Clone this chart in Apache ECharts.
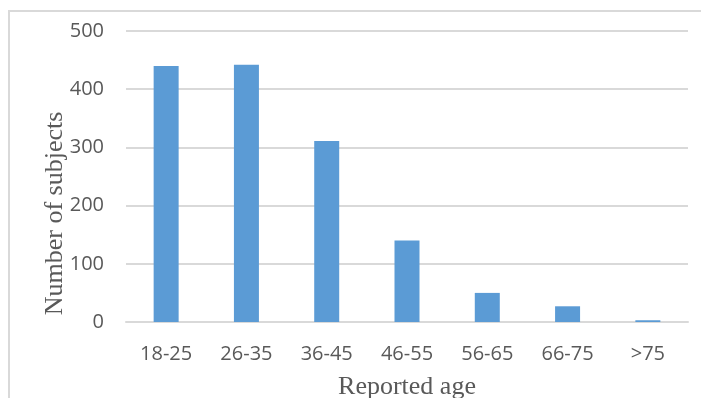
<!DOCTYPE html>
<html>
<head>
<meta charset="utf-8">
<script src="https://cdn.jsdelivr.net/npm/echarts@6/dist/echarts.min.js"></script>
<style>html,body{margin:0;padding:0;background:#fff;}#c{width:701px;height:398px;}</style>
</head>
<body>
<div id="c"></div>
<script>
var categories = ['18-25', '26-35', '36-45', '46-55', '56-65', '66-75', '>75'];
var subjects = [440, 442, 311, 140, 50, 27, 3];
var yTicks = [0, 100, 200, 300, 400, 500];

var chart = echarts.init(document.getElementById('c'), null, {renderer: 'canvas'});
chart.setOption({
  animation: false,
  backgroundColor: '#ffffff',
  graphic: [{
    type: 'rect',
    shape: {x: 9, y: 11, width: 800, height: 500},
    style: {fill: 'none', stroke: '#d9d9d9', lineWidth: 2},
    silent: true,
    z: -1
  }],
  grid: {left: 126, right: 13, top: 31, bottom: 76, containLabel: false, outerBoundsMode: 'none'},
  xAxis: {
    type: 'category',
    data: categories,
    name: 'Reported age',
    nameLocation: 'middle',
    nameGap: 52,
    nameMoveOverlap: false,
    nameTextStyle: {fontFamily: 'Liberation Serif', fontSize: 26, color: '#595959'},
    axisLine: {show: true, lineStyle: {color: '#d9d9d9', width: 2}},
    axisTick: {show: false},
    axisLabel: {fontFamily: 'Open Sans', fontSize: 20, color: '#595959', margin: 22}
  },
  yAxis: {
    type: 'value',
    min: yTicks[0],
    max: yTicks[yTicks.length - 1],
    interval: 100,
    name: 'Number of subjects',
    nameLocation: 'middle',
    nameGap: 58,
    nameMoveOverlap: false,
    nameTextStyle: {fontFamily: 'Liberation Serif', fontSize: 26, color: '#595959', padding: [0, 74, 0, 0]},
    axisLine: {show: false},
    axisTick: {show: false},
    axisLabel: {fontFamily: 'Open Sans', fontSize: 20, color: '#595959', margin: 22},
    splitLine: {lineStyle: {color: '#d9d9d9', width: 2}}
  },
  series: [{
    type: 'bar',
    data: subjects,
    barWidth: 25,
    itemStyle: {color: '#5b9bd5'}
  }]
});
</script>
</body>
</html>
